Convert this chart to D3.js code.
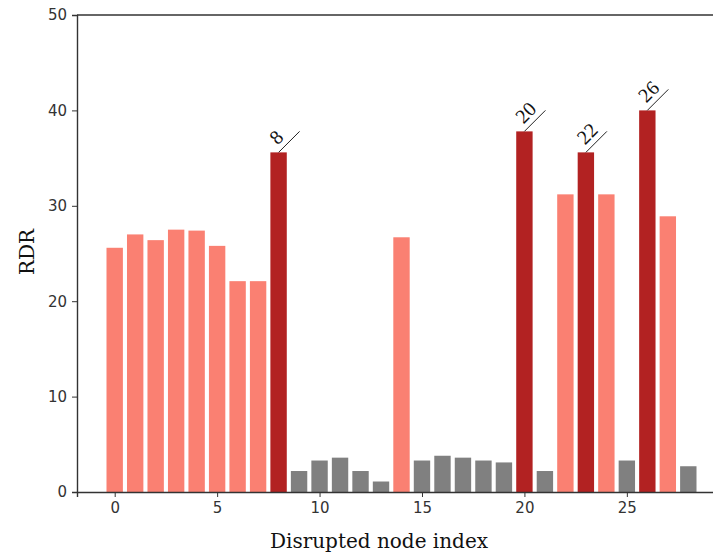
<!DOCTYPE html>
<html>
<head>
<meta charset="UTF-8">
<script src="https://d3js.org/d3.v7.min.js"></script>
<style>
  body { margin: 0; background: #fff; }
  .tick text { font-family: "DejaVu Sans", sans-serif; font-size: 15px; fill: #333; }
</style>
</head>
<body>
<svg width="713" height="557"></svg>
<script>
// RDR value for each disrupted node (index = position)
const rdr = [25.6, 27.0, 26.4, 27.5, 27.4, 25.8, 22.1, 22.1, 35.6, 2.2,
             3.3, 3.6, 2.2, 1.1, 26.7, 3.3, 3.8, 3.6, 3.3, 3.1,
             37.8, 2.2, 31.2, 35.6, 31.2, 3.3, 40.0, 28.9, 2.7];
// group: 0 = low (gray), 1 = high (salmon), 2 = critical (firebrick, labelled)
const group = [1, 1, 1, 1, 1, 1, 1, 1, 2, 0,
               0, 0, 0, 0, 1, 0, 0, 0, 0, 0,
               2, 0, 1, 2, 1, 0, 2, 1, 0];
// labels written on the critical bars, in order
const critLabels = ["8", "20", "22", "26"];
const xTicks = [0, 5, 10, 15, 20, 25];
const yTicks = [0, 10, 20, 30, 40, 50];
const colors = ["#808080", "#fa8072", "#b22222"];

const svg = d3.select("svg");
const margin = { left: 77, top: 15 };
const plotW = 649, plotH = 477;

// matplotlib-like limits: bars from -0.4 to 28.4 plus 5% margin
const x = d3.scaleLinear().domain([-1.84, 29.84]).range([margin.left, margin.left + plotW]);
const y = d3.scaleLinear().domain([0, 50]).range([margin.top + plotH, margin.top]);
const barW = x(0.8) - x(0);

svg.selectAll("rect.bar")
  .data(rdr)
  .enter()
  .append("rect")
    .attr("class", "bar")
    .attr("x", (d, i) => x(i - 0.4))
    .attr("y", d => y(d))
    .attr("width", barW)
    .attr("height", d => y(0) - y(d))
    .attr("fill", (d, i) => colors[group[i]]);

// Axes
svg.append("g")
  .attr("transform", `translate(0, ${y(0)})`)
  .call(d3.axisBottom(x).tickValues(xTicks).tickSize(5).tickPadding(5))
  .call(g => g.select(".domain").attr("stroke", "#333").attr("stroke-width", 1.4))
  .call(g => g.selectAll(".tick line").attr("stroke", "#333"));

svg.append("g")
  .attr("transform", `translate(${margin.left}, 0)`)
  .call(d3.axisLeft(y).tickValues(yTicks).tickSize(5).tickPadding(5))
  .call(g => g.select(".domain").attr("stroke", "#333").attr("stroke-width", 1.4))
  .call(g => g.selectAll(".tick line").attr("stroke", "#333"));

// top spine
svg.append("line")
  .attr("x1", margin.left).attr("x2", margin.left + plotW)
  .attr("y1", y(50)).attr("y2", y(50))
  .attr("stroke", "#333").attr("stroke-width", 1.4);

// Annotations on critical bars
const crit = rdr.map((d, i) => ({ i, v: d }))
  .filter(d => group[d.i] === 2)
  .map((d, k) => ({ ...d, label: critLabels[k] }));
const ann = svg.append("g");
ann.selectAll("line")
  .data(crit)
  .enter()
  .append("line")
    .attr("x1", d => x(d.i))
    .attr("y1", d => y(d.v))
    .attr("x2", d => x(d.i) + 21)
    .attr("y2", d => y(d.v) - 21)
    .attr("stroke", "#222")
    .attr("stroke-width", 1);
ann.selectAll("text")
  .data(crit)
  .enter()
  .append("text")
    .attr("transform", d => `translate(${x(d.i) - 1}, ${y(d.v) - 7}) rotate(-45)`)
    .attr("font-family", "Liberation Serif, serif")
    .attr("font-size", "20px")
    .attr("fill", "#111")
    .text(d => d.label);

// Axis labels
svg.append("text")
  .attr("x", 379).attr("y", 548)
  .attr("text-anchor", "middle")
  .attr("font-family", "DejaVu Serif, serif")
  .attr("font-size", "20px")
  .attr("fill", "#111")
  .text("Disrupted node index");

svg.append("text")
  .attr("transform", "translate(34, 252) rotate(-90)")
  .attr("text-anchor", "middle")
  .attr("font-family", "DejaVu Serif, serif")
  .attr("font-size", "20px")
  .attr("fill", "#111")
  .text("RDR");
</script>
</body>
</html>
